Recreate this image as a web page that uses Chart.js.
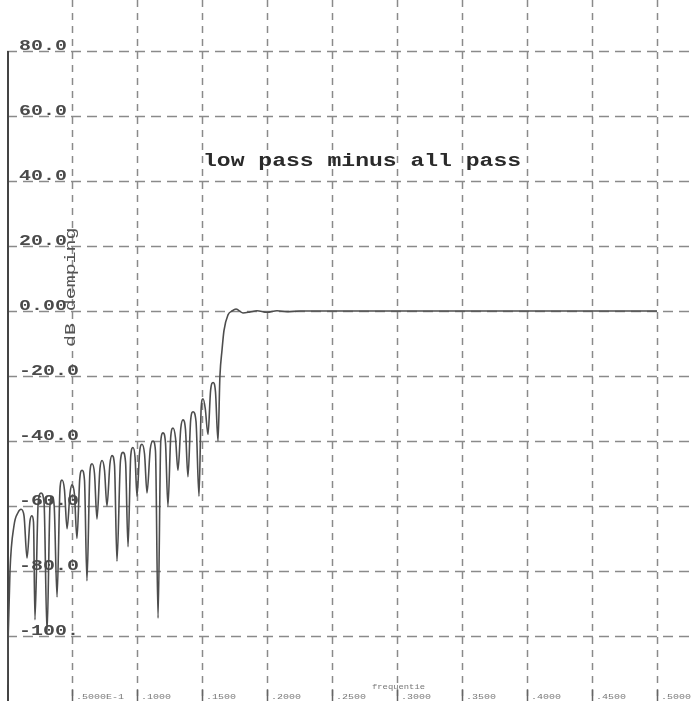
<!DOCTYPE html>
<html>
<head>
<meta charset="utf-8">
<script src="https://cdn.jsdelivr.net/npm/chart.js@4"></script>
<style>
  html, body { margin: 0; padding: 0; background: #fff; overflow: hidden; }
  #wrap { width: 693px; height: 701px; position: relative; }
</style>
</head>
<body>
<div id="wrap"><canvas id="c"></canvas></div>
<script>
// Magnitude response of the "low pass minus all pass" filter (normalised frequency vs. dB)
const frequency = [
  0, 0.0023, 0.0054, 0.0085, 0.0108, 0.0131, 0.0154, 0.0177, 0.0192, 0.0204,
  0.0215, 0.0240, 0.0262, 0.0285, 0.0308, 0.0331, 0.0346, 0.0363, 0.0385, 0.0408,
  0.0423, 0.0442, 0.0462, 0.0485, 0.0500, 0.0519, 0.0538, 0.0560, 0.0577, 0.0596,
  0.0615, 0.0638, 0.0654, 0.0673, 0.0692, 0.0715, 0.0731, 0.0750, 0.0769, 0.0792,
  0.0808, 0.0827, 0.0846, 0.0873, 0.0892, 0.0912, 0.0931, 0.0952, 0.0969, 0.0985,
  0.1000, 0.1020, 0.1038, 0.1058, 0.1077, 0.1102, 0.1123, 0.1142, 0.1162, 0.1183,
  0.1200, 0.1219, 0.1238, 0.1260, 0.1277, 0.1296, 0.1315, 0.1337, 0.1354, 0.1373,
  0.1392, 0.1413, 0.1431, 0.1454, 0.1477, 0.1494, 0.1508, 0.1525, 0.1546, 0.1566,
  0.1585, 0.1604, 0.1623, 0.1638, 0.1654, 0.1669, 0.1700, 0.1731, 0.1762, 0.1815,
  0.1869, 0.1923, 0.2000, 0.2077, 0.2154, 0.2254, 0.5000
];
const dempingDb = [
  -115, -80, -66, -62, -61, -63, -76, -64.5, -63, -65,
  -95, -59, -56, -59, -99, -59.5, -57, -60, -88, -54.5,
  -52, -55, -67, -56, -53.5, -56.5, -70, -51.5, -49, -52,
  -83, -49.5, -47, -50, -64, -48.5, -46, -49, -60, -47,
  -44.5, -47.5, -77, -46, -43.5, -46.5, -72.5, -44.5, -42, -45,
  -57, -43.5, -41, -44, -56, -42.5, -40, -43, -94.5, -40,
  -37.5, -40.5, -60, -38.5, -36, -39, -49, -36, -33.5, -36.5,
  -51, -33.5, -31, -34, -57, -29.5, -27, -30, -38, -24.5,
  -22, -25, -40, -20, -12, -6, -1.2, 0, 0.6, -0.6,
  -0.3, 0.1, -0.4, 0.1, -0.2, 0, 0
];

const yTickValues = [80, 60, 40, 20, 0, -20, -40, -60, -80, -100];
const yTickLabels = ['80.0', '60.0', '40.0', '20.0', '0.00', '-20.0', '-40.0', '-60.0', '-80.0', '-100.'];
const xTickValues = [0.05, 0.10, 0.15, 0.20, 0.25, 0.30, 0.35, 0.40, 0.45, 0.50];
const xTickLabels = ['.5000E-1', '.1000', '.1500', '.2000', '.2500', '.3000', '.3500', '.4000', '.4500', '.5000'];

const chartTitle = 'low pass minus all pass';
const xAxisTitle = 'frequentie';
const yAxisTitle = 'dB demping';

const MONO = "'Liberation Mono', 'DejaVu Sans Mono', monospace";

// draws text stretched horizontally (wide plotter-style lettering)
function wideText(ctx, text, x, y, font, color, sx) {
  ctx.save();
  ctx.translate(x, y);
  ctx.scale(sx, 1);
  ctx.font = font;
  ctx.fillStyle = color;
  ctx.textAlign = 'left';
  ctx.textBaseline = 'alphabetic';
  ctx.fillText(text, 0, 0);
  ctx.restore();
}

const plotterFrame = {
  id: 'plotterFrame',
  beforeDatasetsDraw(chart) {
    const { ctx, chartArea: a, scales: { x, y } } = chart;
    ctx.save();
    ctx.strokeStyle = '#8a8a8a';
    ctx.lineWidth = 1.5;

    // horizontal dashed grid
    ctx.setLineDash([10, 6]);
    yTickValues.forEach(v => {
      const py = Math.round(y.getPixelForValue(v)) + 0.5;
      ctx.beginPath();
      ctx.moveTo(a.left, py);
      ctx.lineTo(a.right, py);
      ctx.stroke();
    });

    // vertical dashed grid
    ctx.setLineDash([7, 6]);
    xTickValues.forEach(v => {
      const px = Math.round(x.getPixelForValue(v)) + 0.5;
      ctx.beginPath();
      ctx.moveTo(px, a.top);
      ctx.lineTo(px, a.bottom);
      ctx.stroke();
    });

    // solid tick marks at the foot of each vertical grid line
    ctx.setLineDash([]);
    ctx.strokeStyle = '#666';
    xTickValues.forEach(v => {
      const px = Math.round(x.getPixelForValue(v)) + 0.5;
      ctx.beginPath();
      ctx.moveTo(px, a.bottom - 11);
      ctx.lineTo(px, a.bottom);
      ctx.stroke();
    });

    // y axis line from the top tick down
    ctx.strokeStyle = '#444';
    ctx.lineWidth = 2;
    const ax = x.getPixelForValue(0) + 1;
    ctx.beginPath();
    ctx.moveTo(ax, y.getPixelForValue(yTickValues[0]));
    ctx.lineTo(ax, a.bottom);
    ctx.stroke();
    ctx.restore();
  },
  afterDatasetsDraw(chart) {
    const { ctx, chartArea: a, scales: { x, y } } = chart;
    const x0 = x.getPixelForValue(0);

    // y tick labels sit just above their grid line
    yTickValues.forEach((v, i) => {
      const py = y.getPixelForValue(v);
      wideText(ctx, yTickLabels[i], x0 + 12, py - 1, 'bold 15px ' + MONO, '#4a4a4a', 1.33);
    });

    // x tick labels, tiny, right of each grid line
    xTickValues.forEach((v, i) => {
      const px = x.getPixelForValue(v);
      wideText(ctx, xTickLabels[i], px + 4, a.bottom - 2, '7px ' + MONO, '#777', 1.43);
    });

    // x axis title
    wideText(ctx, xAxisTitle, x.getPixelForValue(0.2808), a.bottom - 12, '7px ' + MONO, '#777', 1.26);

    // chart title
    wideText(ctx, chartTitle, x.getPixelForValue(0.1508), y.getPixelForValue(44.6), 'bold 18px ' + MONO, '#2a2a2a', 1.28);

    // y axis title, rotated
    ctx.save();
    ctx.translate(x0 + 64, y.getPixelForValue(7.3));
    ctx.rotate(-Math.PI / 2);
    ctx.scale(1.42, 1);
    ctx.font = '14px ' + MONO;
    ctx.fillStyle = '#555';
    ctx.textAlign = 'center';
    ctx.textBaseline = 'middle';
    ctx.fillText(yAxisTitle, 0, 0);
    ctx.restore();
  }
};

new Chart(document.getElementById('c'), {
  type: 'line',
  data: {
    datasets: [{
      data: frequency.map((f, i) => ({ x: f, y: dempingDb[i] })),
      borderColor: '#4d4d4d',
      borderWidth: 1.6,
      pointRadius: 0,
      cubicInterpolationMode: 'monotone',
      fill: false
    }]
  },
  options: {
    responsive: true,
    maintainAspectRatio: false,
    devicePixelRatio: 1,
    animation: false,
    events: [],
    layout: { padding: { left: 7, right: 0, top: 0, bottom: 0 } },
    plugins: { legend: { display: false }, tooltip: { enabled: false }, title: { display: false } },
    scales: {
      x: { type: 'linear', display: false, min: 0, max: 0.5277 },
      y: { type: 'linear', display: false, min: -120, max: 95.7 }
    }
  },
  plugins: [plotterFrame]
});
</script>
</body>
</html>
